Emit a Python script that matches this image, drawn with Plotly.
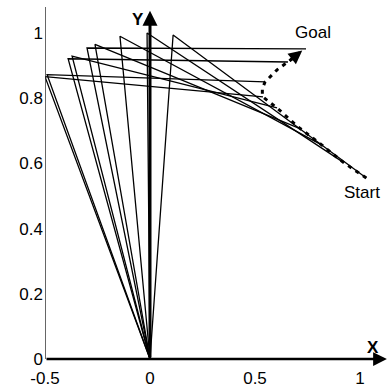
import plotly.graph_objects as go

# Arm configurations: base at (0,0) -> elbow -> end effector
elbow_x = [0.11, -0.014, -0.143, -0.262, -0.371, -0.50, -0.49, -0.39, -0.30]
elbow_y = [0.994, 1.00, 0.99, 0.965, 0.929, 0.866, 0.872, 0.921, 0.954]
tip_x = [1.03, 0.919, 0.819, 0.72, 0.605, 0.538, 0.548, 0.657, 0.743]
tip_y = [0.555, 0.604, 0.656, 0.705, 0.770, 0.804, 0.850, 0.911, 0.951]

# End-effector path (dashed), Start -> Goal
path_x = [1.03, 0.919, 0.819, 0.705, 0.605, 0.535, 0.535, 0.548, 0.605, 0.657, 0.70]
path_y = [0.555, 0.604, 0.656, 0.712, 0.770, 0.805, 0.830, 0.850, 0.887, 0.911, 0.932]

x_ticks = [-0.5, 0, 0.5, 1]
x_tick_text = ["-0.5", "0", "0.5", "1"]
y_ticks = [0, 0.2, 0.4, 0.6, 0.8, 1]
y_tick_text = ["0", "0.2", "0.4", "0.6", "0.8", "1"]

FONT = "Liberation Sans, Arial, sans-serif"

fig = go.Figure()

arm_x, arm_y = [], []
for ex, ey, tx, ty in zip(elbow_x, elbow_y, tip_x, tip_y):
    arm_x += [0, ex, tx, None]
    arm_y += [0, ey, ty, None]
fig.add_trace(go.Scatter(x=arm_x, y=arm_y, mode="lines",
                         line=dict(color="black", width=1.3),
                         hoverinfo="skip", showlegend=False))

fig.add_trace(go.Scatter(x=path_x, y=path_y, mode="lines",
                         line=dict(color="black", width=3, dash="4px,5px"),
                         hoverinfo="skip", showlegend=False))

# left axis line
fig.add_shape(type="line", x0=-0.5, x1=-0.5, y0=0, y1=1.08,
              line=dict(color="#333", width=1.5))

annotations = [
    # x axis arrow
    dict(x=1.128, y=0, ax=-0.5, ay=0, xref="x", yref="y", axref="x", ayref="y",
         showarrow=True, arrowhead=2, arrowsize=1.1, arrowwidth=2.5, arrowcolor="black", text=""),
    # y axis arrow
    dict(x=0, y=1.068, ax=0, ay=0, xref="x", yref="y", axref="x", ayref="y",
         showarrow=True, arrowhead=2, arrowsize=1.0, arrowwidth=3, arrowcolor="black", text=""),
    # goal arrowhead on path
    dict(x=path_x[-1] + 0.025, y=path_y[-1] + 0.014, ax=path_x[-2], ay=path_y[-2],
         xref="x", yref="y", axref="x", ayref="y",
         showarrow=True, arrowhead=2, arrowsize=0.9, arrowwidth=3, arrowcolor="black", text=""),
    dict(x=-0.057, y=1.04, xref="x", yref="y", text="<b>Y</b>", showarrow=False,
         font=dict(family=FONT, size=17, color="black")),
    dict(x=1.062, y=0.036, xref="x", yref="y", text="<b>X</b>", showarrow=False,
         font=dict(family=FONT, size=17, color="black")),
    dict(x=0.776, y=1.0, xref="x", yref="y", text="Goal", showarrow=False,
         font=dict(family=FONT, size=17, color="black")),
    dict(x=1.01, y=0.512, xref="x", yref="y", text="Start", showarrow=False,
         font=dict(family=FONT, size=17, color="black")),
]

fig.update_layout(
    width=388, height=387,
    margin=dict(l=45, r=0, t=0, b=28),
    paper_bgcolor="white", plot_bgcolor="white",
    showlegend=False,
    annotations=annotations,
    xaxis=dict(range=[-0.5, 1.1333], tickvals=x_ticks, ticktext=x_tick_text,
               showgrid=False, zeroline=False, showline=False, ticks="",
               tickfont=dict(family=FONT, size=17, color="black"), ticklabelstandoff=7),
    yaxis=dict(range=[0, 1.1012], tickvals=y_ticks, ticktext=y_tick_text,
               showgrid=False, zeroline=False, showline=False, ticks="",
               tickfont=dict(family=FONT, size=17, color="black"), ticklabelstandoff=1),
)

fig.write_html("out.html", config={"displayModeBar": False},
               post_script="document.body.style.margin='0';document.body.style.overflow='hidden';")
